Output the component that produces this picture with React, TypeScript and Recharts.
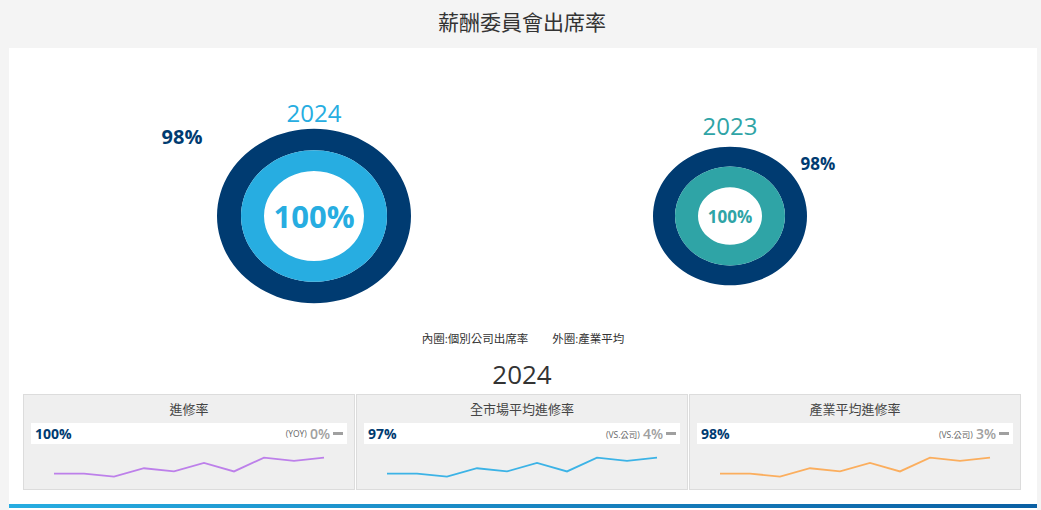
import React from 'react';
import { PieChart, Pie, LineChart, Line, XAxis, YAxis } from 'recharts';

// attendance donuts
const YEARS = ['2024', '2023'];
const COMPANY_RATE = [100, 100];
const INDUSTRY_RATE = [98, 98];
const LEGEND_ITEMS = ['內圈:個別公司出席率', '外圈:產業平均'];

// training panels
const PANEL_TITLES = ['進修率', '全市場平均進修率', '產業平均進修率'];
const PANEL_VALUES = ['100%', '97%', '98%'];
const PANEL_TAGS = ['(YOY)', '(VS.公司)', '(VS.公司)'];
const PANEL_DIFFS = ['0%', '4%', '3%'];
const STUDY_TREND = [85, 85, 82, 90, 87, 95, 87, 100, 97, 100];
const MARKET_TREND = [85, 85, 82, 90, 87, 95, 87, 100, 97, 100];
const INDUSTRY_TREND = [85, 85, 82, 90, 87, 95, 87, 100, 97, 100];

const NAVY = '#003b71';
const FONT = '"Open Sans", "Noto Sans CJK TC", sans-serif';

const donuts = [
  { cx: 314, cy: 216, outer: 97, mid: 73, inner: 50, color: '#27ade1', yearSize: 24, yearY: 113, centerSize: 31, labelSize: 20, labelDx: -132, labelDy: -79 },
  { cx: 730, cy: 216, outer: 77, mid: 55, inner: 32, color: '#2fa4a6', yearSize: 24, yearY: 126, centerSize: 17, labelSize: 17, labelDx: 88, labelDy: -53 },
];

const trends = [STUDY_TREND, MARKET_TREND, INDUSTRY_TREND];
const lineColors = ['#bd80ea', '#3cb3e6', '#fbae5e'];
const panelLeft = [23, 356, 689];

const centered = (x: number, y: number): React.CSSProperties => ({
  position: 'absolute',
  left: x,
  top: y,
  transform: 'translate(-50%, -50%)',
  whiteSpace: 'nowrap',
  lineHeight: 1,
});

const Donut = ({ idx }: { idx: number }) => {
  const d = donuts[idx];
  const size = d.outer * 2 + 4;
  const inside = [{ name: '個別公司', value: COMPANY_RATE[idx] }];
  const outside = [{ name: '產業平均', value: INDUSTRY_RATE[idx] }];
  return (
    <>
      <div
        style={{
          position: 'absolute',
          left: d.cx - size / 2,
          top: d.cy - size / 2,
          width: size,
          height: size,
          transform: 'scaleY(0.9)',
        }}
      >
        <PieChart width={size} height={size} margin={{ top: 0, right: 0, bottom: 0, left: 0 }}>
          <Pie
            data={outside}
            dataKey="value"
            cx="50%"
            cy="50%"
            innerRadius={d.mid}
            outerRadius={d.outer}
            startAngle={90}
            endAngle={-270}
            fill={NAVY}
            stroke="none"
            isAnimationActive={false}
          />
          <Pie
            data={inside}
            dataKey="value"
            cx="50%"
            cy="50%"
            innerRadius={d.inner}
            outerRadius={d.mid}
            startAngle={90}
            endAngle={-270}
            fill={d.color}
            stroke="none"
            isAnimationActive={false}
          />
        </PieChart>
      </div>
      <div style={{ ...centered(d.cx, d.yearY), fontSize: d.yearSize, color: d.color, fontWeight: 400 }}>
        {YEARS[idx]}
      </div>
      <div style={{ ...centered(d.cx, d.cy), fontSize: d.centerSize, color: d.color, fontWeight: 700 }}>
        {COMPANY_RATE[idx]}%
      </div>
      <div
        style={{
          ...centered(d.cx + d.labelDx, d.cy + d.labelDy),
          fontSize: d.labelSize,
          color: NAVY,
          fontWeight: 700,
        }}
      >
        {INDUSTRY_RATE[idx]}%
      </div>
    </>
  );
};

const Panel = ({ idx }: { idx: number }) => {
  const data = trends[idx].map((v, i) => ({ i, v }));
  return (
    <div
      style={{
        position: 'absolute',
        left: panelLeft[idx],
        top: 394,
        width: 332,
        height: 96,
        background: '#efefef',
        border: '1px solid #dcdcdc',
        boxSizing: 'border-box',
      }}
    >
      <div style={{ ...centered(165, 14), fontSize: 13, color: '#444' }}>{PANEL_TITLES[idx]}</div>
      <div
        style={{
          position: 'absolute',
          left: 7,
          top: 28,
          width: 316,
          height: 21,
          background: '#fff',
          display: 'flex',
          alignItems: 'center',
          justifyContent: 'space-between',
          padding: '0 4px',
          boxSizing: 'border-box',
        }}
      >
        <span style={{ fontSize: 14, fontWeight: 700, color: NAVY }}>{PANEL_VALUES[idx]}</span>
        <span style={{ display: 'flex', alignItems: 'center' }}>
          <span style={{ fontSize: 8.5, color: '#666', marginRight: 3 }}>{PANEL_TAGS[idx]}</span>
          <span style={{ fontSize: 14, fontWeight: 600, color: '#a0a0a0', marginRight: 3 }}>{PANEL_DIFFS[idx]}</span>
          <span style={{ display: 'inline-block', width: 10, height: 3, background: '#a0a0a0' }} />
        </span>
      </div>
      <div style={{ position: 'absolute', left: -1, top: 52 }}>
        <LineChart width={332} height={38} data={data} margin={{ top: 10.7, right: 31, bottom: 8.3, left: 31 }}>
          <XAxis dataKey="i" hide />
          <YAxis hide domain={['dataMin', 'dataMax']} />
          <Line
            type="linear"
            dataKey="v"
            stroke={lineColors[idx]}
            strokeWidth={1.8}
            dot={false}
            isAnimationActive={false}
          />
        </LineChart>
      </div>
    </div>
  );
};

export default function App() {
  return (
    <div
      style={{
        position: 'absolute',
        left: 0,
        top: 0,
        width: 1041,
        height: 510,
        background: '#f4f4f4',
        fontFamily: FONT,
        overflow: 'hidden',
      }}
    >
      <div style={{ ...centered(522, 22), fontSize: 21, color: '#333' }}>薪酬委員會出席率</div>
      <div style={{ position: 'absolute', left: 9, top: 48, width: 1028, height: 462, background: '#fff' }} />
      <Donut idx={0} />
      <Donut idx={1} />
      <div style={{ ...centered(523, 339), fontSize: 11.5, color: '#333' }}>
        {LEGEND_ITEMS[0]}
        <span style={{ display: 'inline-block', width: 24 }} />
        {LEGEND_ITEMS[1]}
      </div>
      <div style={{ ...centered(522, 374), fontSize: 26, color: '#333' }}>{YEARS[0]}</div>
      <Panel idx={0} />
      <Panel idx={1} />
      <Panel idx={2} />
      <div
        style={{
          position: 'absolute',
          left: 9,
          top: 504,
          width: 1028,
          height: 4,
          background: 'linear-gradient(to right, #27ade1, #0a5fa3)',
        }}
      />
    </div>
  );
}
